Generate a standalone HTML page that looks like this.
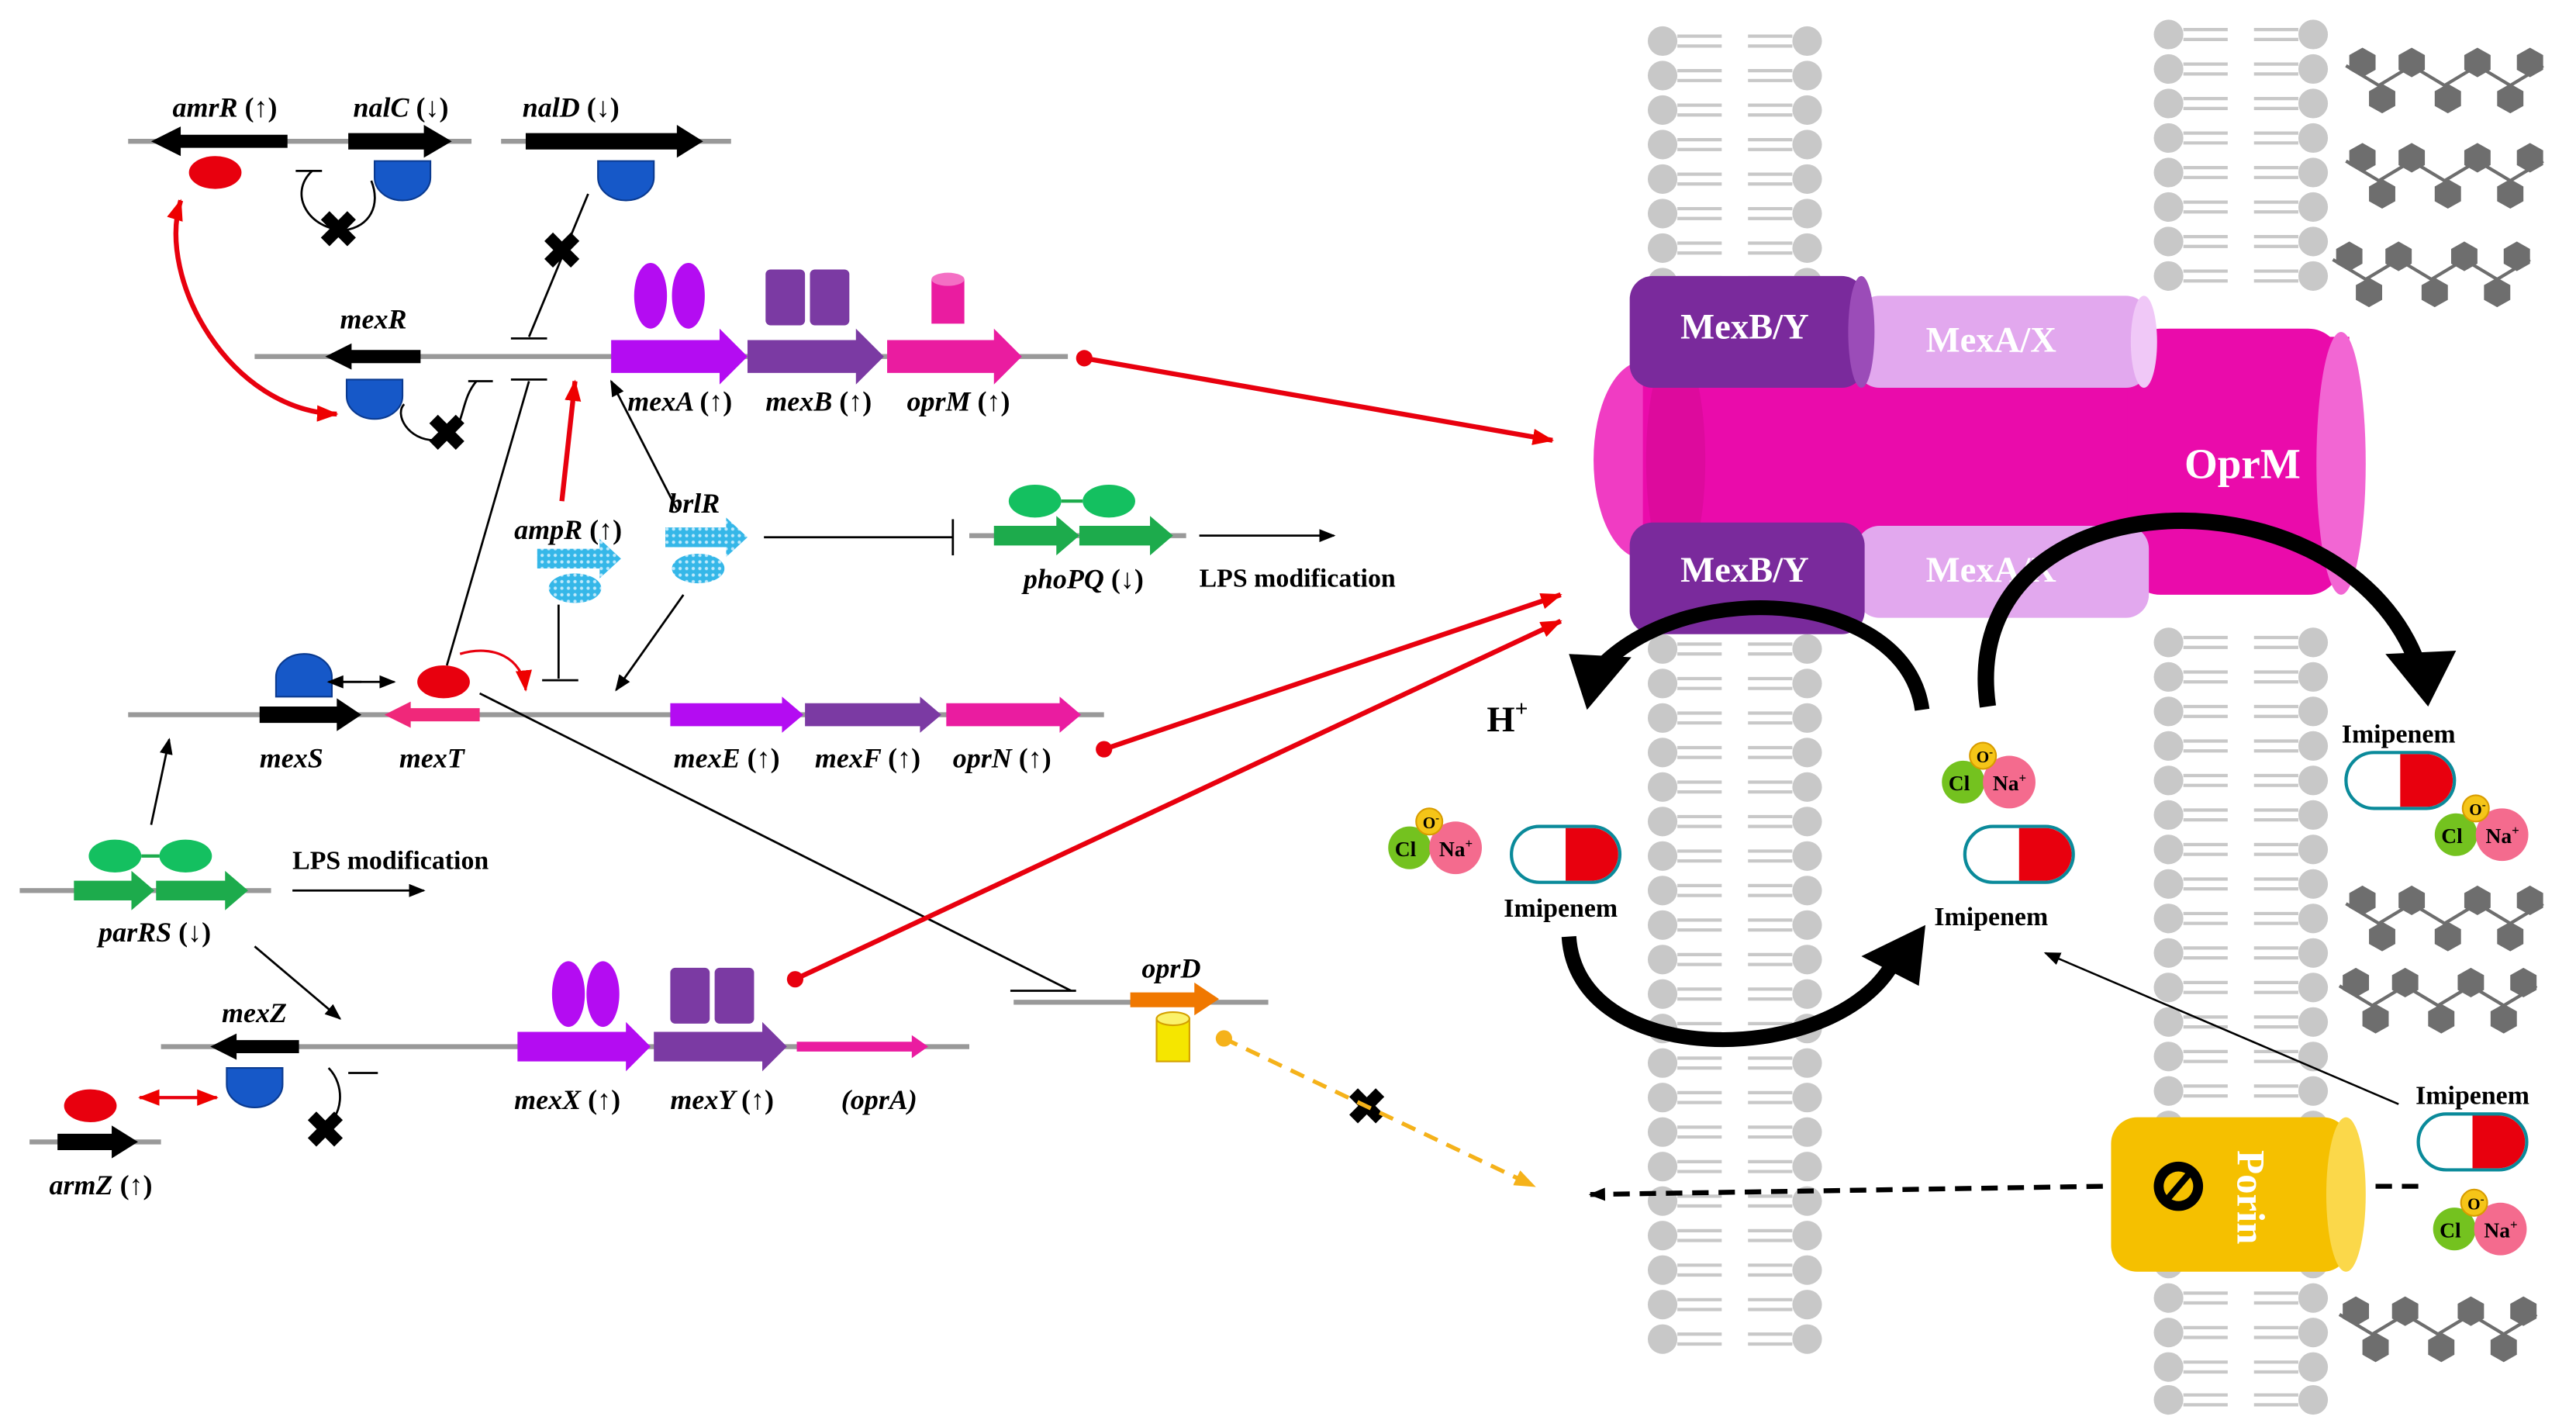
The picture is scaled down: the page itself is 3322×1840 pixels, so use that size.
<!DOCTYPE html>
<html><head><meta charset="utf-8"><style>
html,body{margin:0;padding:0;background:#fff}
svg{display:block}
text{font-family:"Liberation Serif",serif;font-weight:bold}
.g{font-style:italic;font-size:17px}
</style></head><body>
<svg width="3322" height="1840" viewBox="0 0 1568 868.5" preserveAspectRatio="none" xmlns="http://www.w3.org/2000/svg">
<defs>
<marker id="ab" markerUnits="userSpaceOnUse" markerWidth="10" markerHeight="8" refX="9" refY="4" orient="auto"><path d="M0,0 L10,4 L0,8 z" fill="#000"/></marker>
<marker id="ar" markerUnits="userSpaceOnUse" markerWidth="13" markerHeight="10" refX="12" refY="5" orient="auto"><path d="M0,0 L13,5 L0,10 z" fill="#e00"/></marker>
<marker id="ars" markerUnits="userSpaceOnUse" markerWidth="13" markerHeight="10" refX="1" refY="5" orient="auto"><path d="M13,0 L0,5 L13,10 z" fill="#e00"/></marker>
<marker id="ao" markerUnits="userSpaceOnUse" markerWidth="13" markerHeight="10" refX="12" refY="5" orient="auto"><path d="M0,0 L13,5 L0,10 z" fill="#f5b21a"/></marker>
<pattern id="dots" width="4" height="4" patternUnits="userSpaceOnUse"><rect width="4" height="4" fill="#35b7e8"/><circle cx="2" cy="2" r="1" fill="#bfe9fb"/></pattern>
<g id="lip">
<circle cx="0" cy="0" r="9" fill="#c8c8c8"/>
<circle cx="88" cy="0" r="9" fill="#c8c8c8"/>
<path d="M9,-3 H36 M9,3 H36 M52,-3 H79 M52,3 H79" stroke="#c8c8c8" stroke-width="2"/>
</g>
<polygon id="hex" points="0,-9 8,-4.5 8,4.5 0,9 -8,4.5 -8,-4.5" fill="#6e6e6e"/>
<g id="mol">
<circle cx="0" cy="0" r="13" fill="#74c21f"/>
<circle cx="28" cy="0" r="16" fill="#f46b8e"/>
<circle cx="12" cy="-16" r="8" fill="#f5c518" stroke="#d89c00"/>
<text x="-9" y="5" font-size="13" font-weight="normal">Cl</text>
<text x="8" y="-12" font-size="10" font-weight="normal">O<tspan dy="-4" font-size="7">-</tspan></text>
<text x="18" y="5" font-size="13">Na<tspan dy="-5" font-size="8">+</tspan></text>
</g>
<g id="capsule">
<rect x="0" y="0" width="66" height="34" rx="17" fill="#fff" stroke="#0a8a9a" stroke-width="2"/>
<path d="M33,1 H49 A16,16 0 0 1 49,33 H33 z" fill="#e8000e"/>
</g>
</defs>

<!-- membranes -->
<g id="m1">
<use href="#lip" x="1012" y="25"/><use href="#lip" x="1012" y="46"/><use href="#lip" x="1012" y="67"/><use href="#lip" x="1012" y="88"/><use href="#lip" x="1012" y="109"/><use href="#lip" x="1012" y="130"/><use href="#lip" x="1012" y="151"/><use href="#lip" x="1012" y="172"/>
<use href="#lip" x="1012" y="395"/><use href="#lip" x="1012" y="416"/><use href="#lip" x="1012" y="437"/><use href="#lip" x="1012" y="458"/><use href="#lip" x="1012" y="479"/><use href="#lip" x="1012" y="500"/><use href="#lip" x="1012" y="521"/><use href="#lip" x="1012" y="542"/><use href="#lip" x="1012" y="563"/><use href="#lip" x="1012" y="584"/><use href="#lip" x="1012" y="605"/><use href="#lip" x="1012" y="626"/><use href="#lip" x="1012" y="647"/><use href="#lip" x="1012" y="668"/><use href="#lip" x="1012" y="689"/><use href="#lip" x="1012" y="710"/><use href="#lip" x="1012" y="731"/><use href="#lip" x="1012" y="752"/><use href="#lip" x="1012" y="773"/><use href="#lip" x="1012" y="794"/><use href="#lip" x="1012" y="815"/>
</g>
<use href="#m1" x="308" y="-4"/>
<use href="#lip" x="1320" y="832"/><use href="#lip" x="1320" y="852"/>

<!-- LPS hexagon chains -->
<g id="hc">
<path d="M1428,40 L1448,52 L1468,40 L1488,52 L1508,40 L1528,52 L1548,40 M1448,52 L1448,66 M1488,52 L1488,66 M1528,52 L1528,66" stroke="#6e6e6e" stroke-width="2" fill="none"/>
<use href="#hex" x="1438" y="38"/><use href="#hex" x="1468" y="38"/><use href="#hex" x="1508" y="38"/><use href="#hex" x="1540" y="38"/>
<use href="#hex" x="1450" y="60"/><use href="#hex" x="1490" y="60"/><use href="#hex" x="1528" y="60"/>
</g>
<use href="#hc" x="0" y="58"/>
<use href="#hc" x="-8" y="118"/>
<use href="#hc" x="0" y="510"/>
<use href="#hc" x="-4" y="560"/>
<use href="#hc" x="-4" y="760"/>

<!-- Pump -->
<ellipse cx="1000" cy="280" rx="30" ry="60" fill="#f03cc3"/>
<rect x="1000" y="205" width="430" height="150" fill="#ea0bab"/>
<ellipse cx="1020" cy="280" rx="18" ry="70" fill="#d0098f" opacity=".5"/>
<rect x="1295" y="200" width="130" height="162" rx="20" fill="#ea0bab"/>
<ellipse cx="1425" cy="282" rx="15" ry="80" fill="#f266d3"/>
<rect x="1130" y="180" width="178" height="56" rx="14" fill="#e2a8ee"/>
<ellipse cx="1305" cy="208" rx="8" ry="28" fill="#f0c8f7"/>
<rect x="992" y="168" width="143" height="68" rx="14" fill="#7a2a9c"/>
<ellipse cx="1133" cy="202" rx="8" ry="34" fill="#9b4cb8"/>
<rect x="1130" y="320" width="178" height="56" rx="14" fill="#e2a8ee"/>
<rect x="992" y="318" width="143" height="68" rx="14" fill="#7a2a9c"/>
<text x="1062" y="206" fill="#fff" font-size="22" text-anchor="middle">MexB/Y</text>
<text x="1212" y="214" fill="#fff" font-size="22" text-anchor="middle">MexA/X</text>
<text x="1062" y="354" fill="#fff" font-size="22" text-anchor="middle">MexB/Y</text>
<text x="1212" y="354" fill="#fff" font-size="22" text-anchor="middle">MexA/X</text>
<text x="1365" y="291" fill="#fff" font-size="26" text-anchor="middle">OprM</text>

<!-- black curved thick arrows -->
<path d="M1170,432 C1160,360 1030,350 975,405" stroke="#000" stroke-width="9" fill="none"/>
<polygon points="955,398 993,400 966,432" fill="#000"/>
<path d="M1210,430 C1190,290 1420,280 1470,400" stroke="#000" stroke-width="10" fill="none"/>
<polygon points="1452,398 1495,396 1478,430" fill="#000"/>
<path d="M955,570 C960,650 1110,650 1150,590" stroke="#000" stroke-width="9" fill="none"/>
<polygon points="1133,582 1172,563 1168,600" fill="#000"/>
<text x="905" y="445" font-size="22">H<tspan font-size="14" dy="-9">+</tspan></text>

<!-- molecules -->
<use href="#mol" transform="translate(858,516)"/>
<use href="#mol" transform="translate(1195,476)"/>
<use href="#capsule" x="920" y="503"/>
<use href="#capsule" x="1196" y="503"/>
<use href="#capsule" x="1428" y="458"/>
<use href="#capsule" x="1472" y="678"/>
<use href="#mol" transform="translate(1495,508)"/>
<use href="#mol" transform="translate(1494,748)"/>
<text x="950" y="558" font-size="16" text-anchor="middle">Imipenem</text>
<text x="1212" y="563" font-size="16" text-anchor="middle">Imipenem</text>
<text x="1460" y="452" font-size="16" text-anchor="middle">Imipenem</text>
<text x="1505" y="672" font-size="16" text-anchor="middle">Imipenem</text>
<line x1="1460" y1="672" x2="1245" y2="580" stroke="#000" stroke-width="1.2" marker-end="url(#ab)"/>

<!-- Porin -->
<rect x="1285" y="680" width="145" height="94" rx="16" fill="#f5c000"/>
<ellipse cx="1428" cy="727" rx="12" ry="47" fill="#fbd84a"/>
<circle cx="1326" cy="722" r="15" fill="#000"/>
<circle cx="1326" cy="722" r="9" fill="#f5c000"/>
<line x1="1320" y1="729" x2="1332" y2="715" stroke="#000" stroke-width="4"/>
<text x="0" y="0" fill="#fff" font-size="24" transform="translate(1362,700) rotate(90)">Porin</text>
<line x1="1472" y1="722" x2="1440" y2="722" stroke="#000" stroke-width="3" stroke-dasharray="10,6"/>
<line x1="1280" y1="722" x2="968" y2="727" stroke="#000" stroke-width="3" stroke-dasharray="10,6" marker-end="url(#ab)"/>

<!-- ===== Gene diagrams ===== -->
<g stroke="#999" stroke-width="3">
<line x1="78" y1="86" x2="287" y2="86"/><line x1="305" y1="86" x2="445" y2="86"/>
<line x1="155" y1="217" x2="650" y2="217"/>
<line x1="78" y1="435" x2="672" y2="435"/>
<line x1="12" y1="542" x2="165" y2="542"/>
<line x1="590" y1="326" x2="722" y2="326"/>
<line x1="98" y1="637" x2="590" y2="637"/>
<line x1="18" y1="695" x2="98" y2="695"/>
<line x1="617" y1="610" x2="772" y2="610"/>
</g>
<polygon points="92,86 110,77 110,82 175,82 175,90 110,90 110,95" fill="#000"/>
<polygon points="212,81 258,81 258,76 275,86 258,96 258,91 212,91" fill="#000"/>
<polygon points="320,81 412,81 412,76 428,86 412,96 412,91 320,91" fill="#000"/>
<polygon points="198,217 214,209 214,213 256,213 256,221 214,221 214,225" fill="#000"/>
<polygon points="158,430 205,430 205,425 220,435 205,445 205,440 158,440" fill="#000"/>
<polygon points="128,637 144,629 144,633 182,633 182,641 144,641 144,645" fill="#000"/>
<polygon points="35,690 68,690 68,685 84,695 68,705 68,700 35,700" fill="#000"/>
<polygon points="234,435 250,427 250,431 292,431 292,439 250,439 250,443" fill="#f0287a"/>
<polygon points="372,207 438,207 438,200 455,217 438,234 438,227 372,227" fill="#b40cf2"/>
<polygon points="455,207 521,207 521,200 538,217 521,234 521,227 455,227" fill="#7b3aa3"/>
<polygon points="540,207 605,207 605,200 622,217 605,234 605,227 540,227" fill="#ea1ca0"/>
<polygon points="408,428 476,428 476,424 489,435 476,446 476,442 408,442" fill="#b40cf2"/>
<polygon points="490,428 560,428 560,424 573,435 560,446 560,442 490,442" fill="#7b3aa3"/>
<polygon points="576,428 645,428 645,424 658,435 645,446 645,442 576,442" fill="#ea1ca0"/>
<polygon points="315,628 381,628 381,622 396,637 381,652 381,646 315,646" fill="#b40cf2"/>
<polygon points="398,628 464,628 464,622 479,637 464,652 464,646 398,646" fill="#7b3aa3"/>
<polygon points="485,634 555,634 555,630 565,637 555,644 555,640 485,640" fill="#ea1ca0"/>
<polygon points="605,320 643,320 643,314 657,326 643,338 643,332 605,332" fill="#1dab4c"/>
<polygon points="657,320 700,320 700,314 714,326 700,338 700,332 657,332" fill="#1dab4c"/>
<polygon points="45,536 80,536 80,530 94,542 80,554 80,548 45,548" fill="#1dab4c"/>
<polygon points="95,536 137,536 137,530 151,542 137,554 137,548 95,548" fill="#1dab4c"/>
<g fill="#14c060"><ellipse cx="630" cy="305" rx="16" ry="10"/><ellipse cx="675" cy="305" rx="16" ry="10"/><ellipse cx="70" cy="521" rx="16" ry="10"/><ellipse cx="113" cy="521" rx="16" ry="10"/></g>
<line x1="646" y1="305" x2="659" y2="305" stroke="#1dab4c" stroke-width="2"/><line x1="86" y1="521" x2="97" y2="521" stroke="#1dab4c" stroke-width="2"/>
<polygon points="327,334 365,334 365,328 378,340 365,352 365,346 327,346" fill="url(#dots)"/>
<ellipse cx="350" cy="358" rx="16" ry="9" fill="url(#dots)"/>
<polygon points="405,321 442,321 442,315 455,327 442,339 442,333 405,333" fill="url(#dots)"/>
<ellipse cx="425" cy="346" rx="16" ry="9" fill="url(#dots)"/>
<polygon points="688,604 727,604 727,598 742,608 727,618 727,613 688,613" fill="#f07800"/>
<rect x="704" y="620" width="20" height="26" fill="#f5e600" stroke="#d4a000"/>
<ellipse cx="714" cy="620" rx="10" ry="4" fill="#fbf26a" stroke="#d4a000"/>
<ellipse cx="396" cy="180" rx="10" ry="20" fill="#b40cf2"/><ellipse cx="419" cy="180" rx="10" ry="20" fill="#b40cf2"/>
<rect x="466" y="164" width="24" height="34" rx="3" fill="#7b3aa3"/><rect x="493" y="164" width="24" height="34" rx="3" fill="#7b3aa3"/>
<rect x="567" y="170" width="20" height="27" fill="#ea1ca0"/><ellipse cx="577" cy="170" rx="10" ry="4" fill="#f46fc4"/>
<ellipse cx="346" cy="605" rx="10" ry="20" fill="#b40cf2"/><ellipse cx="367" cy="605" rx="10" ry="20" fill="#b40cf2"/>
<rect x="408" y="589" width="24" height="34" rx="3" fill="#7b3aa3"/><rect x="435" y="589" width="24" height="34" rx="3" fill="#7b3aa3"/>
<g fill="#e8000e"><ellipse cx="131" cy="105" rx="16" ry="10"/><ellipse cx="270" cy="415" rx="16" ry="10"/><ellipse cx="55" cy="673" rx="16" ry="10"/></g>
<g fill="#1658c8" stroke="#0a3a90">
<path d="M228,98 H262 V108 A17,14 0 0 1 228,108 z"/>
<path d="M364,98 H398 V108 A17,14 0 0 1 364,108 z"/>
<path d="M211,231 H245 V241 A17,14 0 0 1 211,241 z"/>
<path d="M138,650 H172 V660 A17,14 0 0 1 138,660 z"/>
<path d="M168,424 V412 A17,14 0 0 1 202,412 V424 z"/>
</g>
<text class="g" x="105" y="71">amrR <tspan font-style="normal">(↑)</tspan></text>
<text class="g" x="215" y="71">nalC <tspan font-style="normal">(↓)</tspan></text>
<text class="g" x="318" y="71">nalD <tspan font-style="normal">(↓)</tspan></text>
<text class="g" x="207" y="200">mexR</text>
<text class="g" x="382" y="250">mexA <tspan font-style="normal">(↑)</tspan></text>
<text class="g" x="466" y="250">mexB <tspan font-style="normal">(↑)</tspan></text>
<text class="g" x="552" y="250">oprM <tspan font-style="normal">(↑)</tspan></text>
<text class="g" x="313" y="328">ampR <tspan font-style="normal">(↑)</tspan></text>
<text class="g" x="407" y="312">brlR</text>
<text class="g" x="623" y="358">phoPQ <tspan font-style="normal">(↓)</tspan></text>
<text x="730" y="357" font-size="16">LPS modification</text>
<text class="g" x="158" y="467">mexS</text>
<text class="g" x="243" y="467">mexT</text>
<text class="g" x="410" y="467">mexE <tspan font-style="normal">(↑)</tspan></text>
<text class="g" x="496" y="467">mexF <tspan font-style="normal">(↑)</tspan></text>
<text class="g" x="580" y="467">oprN <tspan font-style="normal">(↑)</tspan></text>
<text x="178" y="529" font-size="16">LPS modification</text>
<text class="g" x="60" y="573">parRS <tspan font-style="normal">(↓)</tspan></text>
<text class="g" x="135" y="622">mexZ</text>
<text class="g" x="313" y="675">mexX <tspan font-style="normal">(↑)</tspan></text>
<text class="g" x="408" y="675">mexY <tspan font-style="normal">(↑)</tspan></text>
<text class="g" x="512" y="675" font-style="normal">(<tspan font-style="italic">oprA</tspan>)</text>
<text class="g" x="30" y="727">armZ <tspan font-style="normal">(↑)</tspan></text>
<text class="g" x="695" y="595">oprD</text>

<g stroke="#000" stroke-width="1.3" fill="none">
<path d="M190,104 C175,118 188,140 210,140 C225,138 232,125 226,110 M180,104 H196"/>
<path d="M290,232 C278,246 285,265 265,268 C248,268 240,252 246,246 M285,232 H300"/>
<path d="M200,650 C210,660 210,680 195,688 M212,653 H230"/>
<line x1="358" y1="118" x2="322" y2="205"/><line x1="311" y1="206" x2="333" y2="206"/>
<line x1="272" y1="405" x2="322" y2="232"/><line x1="311" y1="231" x2="333" y2="231"/>
<line x1="340" y1="368" x2="340" y2="413"/><line x1="330" y1="414" x2="352" y2="414"/>
<line x1="465" y1="327" x2="580" y2="327"/><line x1="580" y1="316" x2="580" y2="338"/>
<line x1="412" y1="310" x2="372" y2="232" marker-end="url(#ab)"/>
<line x1="416" y1="362" x2="375" y2="420" marker-end="url(#ab)"/>
<line x1="730" y1="326" x2="812" y2="326" marker-end="url(#ab)"/>
<line x1="178" y1="542" x2="258" y2="542" marker-end="url(#ab)"/>
<line x1="92" y1="502" x2="103" y2="450" marker-end="url(#ab)"/>
<line x1="155" y1="576" x2="207" y2="620" marker-end="url(#ab)"/>
<line x1="208" y1="415" x2="240" y2="415" marker-end="url(#ab)"/>
<line x1="220" y1="415" x2="200" y2="415" marker-end="url(#ab)"/>
<line x1="292" y1="422" x2="652" y2="603"/>
</g>
<line x1="615" y1="603" x2="655" y2="603" stroke="#000" stroke-width="1.3"/>
<g font-size="30" font-family="Liberation Sans" text-anchor="middle">
<text x="206" y="150">✖</text><text x="342" y="163">✖</text><text x="272" y="274">✖</text><text x="198" y="698">✖</text><text x="832" y="684">✖</text>
</g>
<g stroke="#e8000e" stroke-width="3" fill="none">
<path d="M110,122 C95,170 140,250 205,252" marker-end="url(#ar)" marker-start="url(#ars)"/>
<line x1="342" y1="305" x2="350" y2="232" marker-end="url(#ar)"/>
<path d="M280,398 C300,392 318,400 320,420" stroke-width="1.5" marker-end="url(#ar)"/>
<line x1="85" y1="668" x2="132" y2="668" stroke-width="2" marker-end="url(#ar)" marker-start="url(#ars)"/>
<line x1="660" y1="218" x2="945" y2="268" marker-end="url(#ar)"/>
<line x1="672" y1="456" x2="950" y2="362" marker-end="url(#ar)"/>
<line x1="484" y1="596" x2="950" y2="378" marker-end="url(#ar)"/>
</g>
<g fill="#e8000e"><circle cx="660" cy="218" r="5"/><circle cx="672" cy="456" r="5"/><circle cx="484" cy="596" r="5"/></g>
<circle cx="745" cy="632" r="5" fill="#f5b21a"/>
<line x1="745" y1="632" x2="934" y2="722" stroke="#f5b21a" stroke-width="2.5" stroke-dasharray="9,6" marker-end="url(#ao)"/>
</svg>
</body></html>
